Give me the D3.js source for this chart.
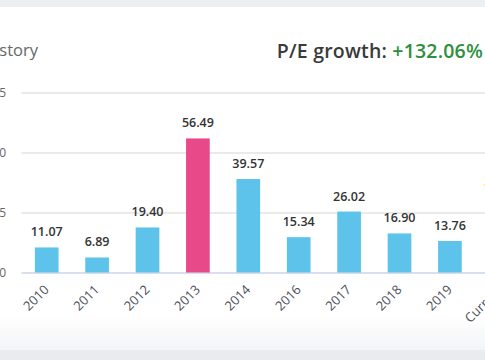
<!DOCTYPE html>
<html><head><meta charset="utf-8">
<script src="https://cdn.jsdelivr.net/npm/d3@7"></script>
<style>html,body{margin:0;padding:0;background:#fff;overflow:hidden}svg{display:block}</style>
</head><body>
<script>
const categories = ["2010","2011","2012","2013","2014","2016","2017","2018","2019","Current"];
const peValues = [11.07, 6.89, 19.40, 56.49, 39.57, 15.34, 26.02, 16.90, 13.76, 31.93];
const highlighted = ["2013"];
const yTicks = [0, 25, 50, 75];
const titleText = "P/E history";
const growthLabel = "P/E growth: ";
const growthValue = "+132.06%";

const W = 485, H = 360;
const svg = d3.select("body").append("svg").attr("width", W).attr("height", H);

const defs = svg.append("defs");
const g1 = defs.append("linearGradient").attr("id","shade").attr("x1",0).attr("y1",0).attr("x2",0).attr("y2",1);
g1.append("stop").attr("offset","0%").attr("stop-color","#ffffff");
g1.append("stop").attr("offset","100%").attr("stop-color","#f3f4f6");

svg.append("rect").attr("x",0).attr("y",0).attr("width",W).attr("height",H).attr("fill","#fff");
svg.append("rect").attr("x",0).attr("y",315).attr("width",W).attr("height",35).attr("fill","url(#shade)");
svg.append("rect").attr("x",0).attr("y",0).attr("width",W).attr("height",7).attr("fill","#eceef2");
svg.append("rect").attr("x",0).attr("y",350).attr("width",W).attr("height",10).attr("fill","#e9ebef");

const x = d3.scaleBand().domain(categories).range([21.5, 525.5]).paddingInner(0.53).paddingOuter(0.265);
const y = d3.scaleLinear().domain([0, 75]).range([272.5, 92.5]);

// grid
const yAxis = d3.axisLeft(y).tickValues(yTicks).tickSize(-(W - 21.5 + 10)).tickPadding(0).tickFormat(d3.format("d"));
const ga = svg.append("g").attr("transform", "translate(21.5,0)").call(yAxis);
ga.select(".domain").remove();
ga.selectAll(".tick line").attr("stroke", d => d === 0 ? "#cdd5ea" : "#e3e3e3").attr("stroke-width", 1.5);
ga.selectAll(".tick text").attr("x", -15.5).attr("fill", "#666").attr("font-family", "Open Sans, sans-serif").attr("font-size", 12).attr("text-anchor","end");

// bars
svg.append("g").selectAll("rect").data(categories).join("rect")
  .attr("x", d => x(d))
  .attr("width", x.bandwidth())
  .attr("y", (d,i) => y(peValues[i]) + 1.5)
  .attr("height", (d,i) => y(0) - y(peValues[i]) - 1.5)
  .attr("fill", d => highlighted.includes(d) ? "#e84a89" : "#5ec3ea");

// value labels
svg.append("g").selectAll("text").data(categories).join("text")
  .attr("x", d => x(d) + x.bandwidth()/2)
  .attr("y", (d,i) => y(peValues[i]) - 9.5)
  .attr("text-anchor","middle")
  .attr("font-family","Open Sans, sans-serif").attr("font-weight",600).attr("font-size",12.5)
  .attr("fill","#333")
  .text((d,i) => peValues[i].toFixed(2));

// x axis labels
const xAxis = d3.axisBottom(x).tickSize(0).tickPadding(0);
const gx = svg.append("g").attr("transform","translate(0,272.5)").call(xAxis);
gx.select(".domain").remove();
gx.selectAll(".tick text")
  .attr("text-anchor","end").attr("y",0).attr("dy",0)
  .attr("transform","translate(3,18) rotate(-45)")
  .attr("fill","#4d4f5c").attr("font-family","Open Sans, sans-serif").attr("font-size",13);

// titles
svg.append("text").attr("x",38).attr("y",56).attr("text-anchor","end")
  .attr("font-family","Open Sans, sans-serif").attr("font-size",16.5).attr("fill","#666").text(titleText);
const gt = svg.append("text").attr("x",483).attr("y",58).attr("text-anchor","end")
  .attr("font-family","Open Sans, sans-serif").attr("font-size",19.5).attr("font-weight",600).attr("letter-spacing",0.2);
gt.append("tspan").attr("fill","#3a3a3a").text(growthLabel);
gt.append("tspan").attr("fill","#2e8f3c").text(growthValue);
</script>
</body></html>
